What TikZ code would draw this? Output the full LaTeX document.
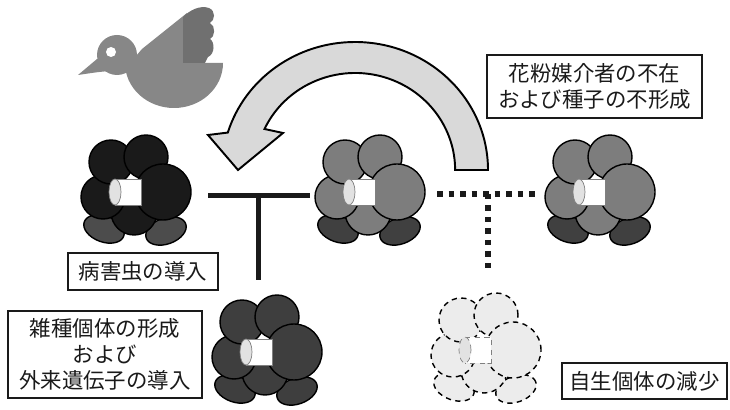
\documentclass[tikz,border=0pt]{standalone}
\usepackage{fontspec}
\usepackage{xcolor}
\usepackage{tikz}
\usetikzlibrary{positioning,calc}
\newfontfamily\jpfont{Noto Sans CJK JP}
\definecolor{birdgray}{RGB}{135,135,135}
\definecolor{wingdark}{RGB}{112,112,112}
\definecolor{arrowfill}{RGB}{217,217,217}
\definecolor{inkblack}{RGB}{26,26,26}
\definecolor{petalmid}{RGB}{125,125,125}
\definecolor{petaldark}{RGB}{62,62,62}
\definecolor{leafmid}{RGB}{64,64,64}
\definecolor{leafblack}{RGB}{76,76,76}
\definecolor{ghostfill}{RGB}{236,236,236}
\definecolor{capgray}{RGB}{226,226,226}

\tikzset{
  labelbox/.style={draw=inkblack, line width=0.7pt, fill=white, text=inkblack,
    font=\jpfont\fontsize{12.2}{14.8}\selectfont, align=center, inner sep=0pt},
  crossline/.style={line width=0.1cm, inkblack},
  dotline/.style={line width=0.11cm, inkblack, dash pattern=on 0.11cm off 0.12cm},
  pics/flower/.style 2 args={code={
    % leaves
    \draw[fill=#2, rotate around={-20:(-0.22,-0.74)}] (-0.22,-0.74) ellipse (0.42 and 0.26);
    \draw[fill=#2, rotate around={20:(1.02,-0.78)}] (1.02,-0.78) ellipse (0.42 and 0.26);
    % petals, back to front
    \draw[fill=#1] (0.38,-0.40) circle (0.46);
    \draw[fill=#1] (-0.24,-0.10) circle (0.44);
    \draw[fill=#1] (-0.08,0.60) circle (0.44);
    \draw[fill=#1] (0.62,0.70) circle (0.44);
    \draw[fill=#1] (0.96,0) circle (0.56);
    % tube in front
    \draw[fill=white, draw=gray, line width=0.4pt] (0,0.26) -- (0.52,0.26) -- (0.52,-0.26) -- (0,-0.26);
    \draw[fill=capgray, draw=gray, line width=0.4pt] (0,0) ellipse (0.12 and 0.26);
  }}
}

\begin{document}
\begin{tikzpicture}[line width=0.8pt]
    \useasboundingbox (0,0) rectangle (14.6,8.2);

    % Bird
    \begin{scope}[birdgray]
        \fill (2.50,6.94) arc[start angle=180, end angle=360, x radius=0.98, y radius=0.90] -- cycle;
        \fill (2.34,7.10) circle (0.40);
        \fill (1.56,6.70) .. controls (1.75,6.86) .. (1.94,7.02) -- (2.50,6.96) -- (2.52,6.78) .. controls (2.10,6.78) .. (1.56,6.70) -- cycle;
        \fill (2.60,6.94) -- (2.84,7.22) -- (3.74,7.94) -- (3.74,6.94) -- cycle;
    \end{scope}
    \fill[wingdark] (3.66,6.94) -- (3.66,7.86) .. controls (3.80,8.00) and (4.00,8.10) .. (4.18,8.04)
        .. controls (4.32,7.98) and (4.30,7.80) .. (4.20,7.74)
        .. controls (4.32,7.68) and (4.30,7.46) .. (4.20,7.42)
        .. controls (4.30,7.36) and (4.30,7.12) .. (4.16,7.06) -- (4.10,6.94) -- cycle;
    \fill[white] (2.22,7.16) circle (0.10);

    % Curved arrow back to the wild plant
    \draw[line width=1.1pt, fill=arrowfill]
        (9.76,4.80) arc[start angle=0, end angle=163, x radius=2.66, y radius=2.56]
        -- (4.16,5.50) -- (4.76,4.80) -- (5.66,5.54) -- (5.29,5.62)
        arc[start angle=155, end angle=0, x radius=2.00, y radius=1.94] -- cycle;

    % Plants
    \pic at (2.30,4.36) {flower={inkblack}{leafblack}};
    \pic at (6.98,4.36) {flower={petalmid}{leafmid}};
    \pic at (11.58,4.36) {flower={petalmid}{leafmid}};
    \pic at (4.92,1.16) {flower={petaldark}{petaldark}};
    \pic[dash pattern=on 3pt off 2.5pt] at (9.30,1.20) {flower={ghostfill}{ghostfill}};

    % Crossing lines
    \coordinate (solidL) at (4.16,4.28);
    \coordinate (solidR) at (6.20,4.28);
    \coordinate (solidM) at (5.16,4.28);
    \coordinate (solidD) at (5.16,2.60);
    \draw[crossline] (solidL) -- (solidR);
    \draw[crossline] (solidM) -- (solidD);

    \coordinate (dotL) at (8.74,4.32);
    \coordinate (dotR) at (10.80,4.32);
    \coordinate (dotM) at (9.76,4.32);
    \coordinate (dotD) at (9.76,2.74);
    \draw[dotline] (dotL) -- (dotR);
    \draw[dotline] (dotM) -- (dotD);

    % Labels
    \node[labelbox, minimum width=4.30cm, minimum height=1.26cm] (pollinator) at (11.89,6.47) {花粉媒介者の不在\\および種子の不形成};
    \node[labelbox, minimum width=3.00cm, minimum height=0.74cm] (pest) at (2.86,2.77) {病害虫の導入};
    \node[labelbox, minimum width=3.88cm, minimum height=1.74cm] (hybrid) at (2.10,1.11) {雑種個体の形成\\および\\外来遺伝子の導入};
    \node[labelbox, minimum width=3.30cm, minimum height=0.72cm] (decline) at (12.89,0.58) {自生個体の減少};
\end{tikzpicture}
\end{document}
